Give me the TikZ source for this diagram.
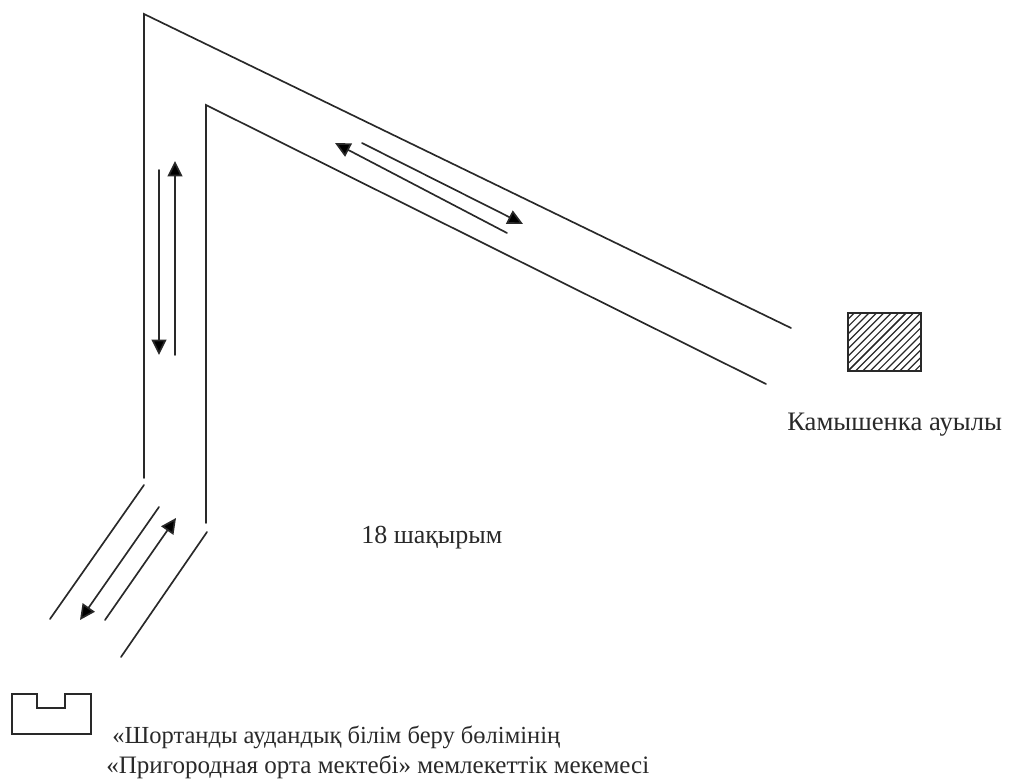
\documentclass[tikz,border=0pt]{standalone}
\usepackage{fontspec}
\setmainfont{Liberation Serif}
\usetikzlibrary{arrows.meta}
\definecolor{ink}{gray}{0.16}
\tikzset{
  road/.style={draw=ink,line width=1.25pt,line cap=round,line join=miter},
  dir/.style={road,-{Triangle[length=11.5pt,width=11pt,fill=black]}},
  lbl/.style={inner sep=0pt,anchor=base west,text=ink},
  hatchline/.style={draw=ink,line width=0.9pt}
}
\newcommand{\lblsize}[1]{\fontsize{#1pt}{#1pt}\selectfont}
\begin{document}
\begin{tikzpicture}[x=0.75pt,y=-0.75pt]
\useasboundingbox (0,0) rectangle (1011,781);
% junction points
\coordinate (oa) at (144,478);
\coordinate (ob) at (144,14);
\coordinate (oc) at (791,328);
\coordinate (ia) at (206,523);
\coordinate (ib) at (206,105);
\coordinate (ic) at (766,384);
\coordinate (la1) at (144,485);
\coordinate (la2) at (50,619);
\coordinate (lb1) at (207,532);
\coordinate (lb2) at (121,657);
\draw[road] (oa) -- (ob) -- (oc);
\draw[road] (ia) -- (ib) -- (ic);
\draw[road] (la1) -- (la2);
\draw[road] (lb1) -- (lb2);
% direction arrows
\coordinate (d1s) at (159,170); \coordinate (d1e) at (159,355);
\coordinate (d2s) at (175,355); \coordinate (d2e) at (175,161);
\coordinate (d3s) at (507,233); \coordinate (d3e) at (335,143);
\coordinate (d4s) at (362,143); \coordinate (d4e) at (523,224);
\coordinate (d5s) at (159,507); \coordinate (d5e) at (80,620);
\coordinate (d6s) at (105,620); \coordinate (d6e) at (176,518);
\draw[dir] (d1s) -- (d1e);
\draw[dir] (d2s) -- (d2e);
\draw[dir] (d3s) -- (d3e);
\draw[dir] (d4s) -- (d4e);
\draw[dir] (d5s) -- (d5e);
\draw[dir] (d6s) -- (d6e);
% village
\begin{scope}
\clip (848,313) rectangle (921,371);
\foreach \k in {0,7.4,...,140}{
  \draw[hatchline] (848+\k-2,371+2) -- ++(62,-62);
  \draw[hatchline] (848-\k-2,371+2) -- ++(62,-62);
}
\end{scope}
\draw[road,line cap=butt] (848,313) rectangle (921,371);
% school
\draw[road,line cap=butt] (12,694) -- (37,694) -- (37,708) -- (65,708) -- (65,694) -- (91,694) -- (91,734) -- (12,734) -- cycle;
% labels
\node[lbl,font=\lblsize{20}] (village) at (787,430) {Камышенка ауылы};
\node[lbl,font=\lblsize{19.5}] (dist) at (361,543) {18 шақырым};
\node[lbl,font=\lblsize{18.4}] (sch1) at (112,743) {«Шортанды аудандық білім беру бөлімінің};
\node[lbl,font=\lblsize{18.8}] (sch2) at (106,773) {«Пригородная орта мектебі» мемлекеттік мекемесі};
\end{tikzpicture}
\end{document}
